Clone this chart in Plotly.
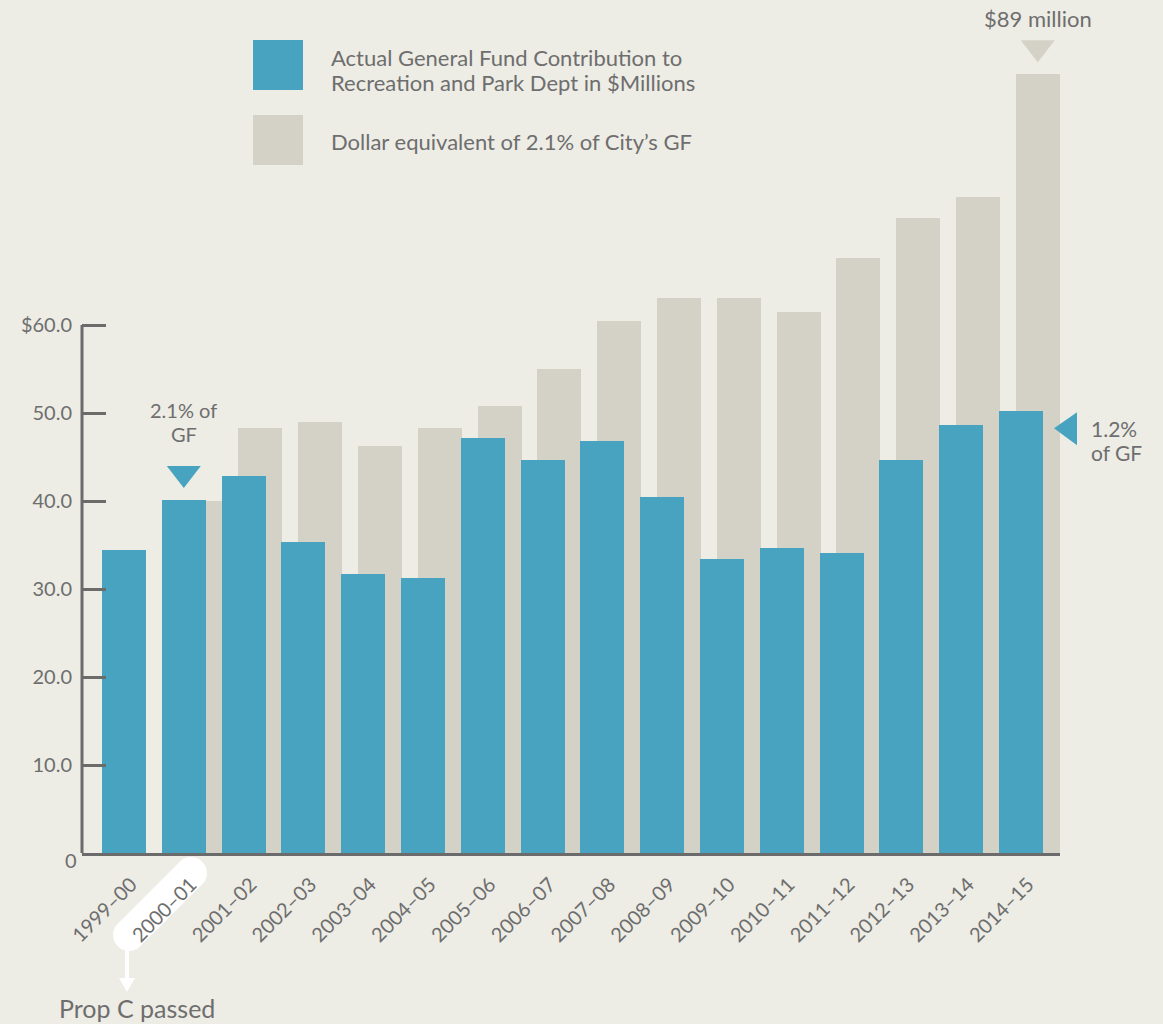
import math
import plotly.graph_objects as go

# ---------------- data ----------------
years = ["1999–00", "2000–01", "2001–02", "2002–03", "2003–04", "2004–05", "2005–06",
         "2006–07", "2007–08", "2008–09", "2009–10", "2010–11", "2011–12", "2012–13",
         "2013–14", "2014–15"]
actual_gf = [34.4, 40.1, 42.8, 35.3, 31.7, 31.3, 47.2, 44.7, 46.8, 40.5, 33.4, 34.7,
             34.1, 44.7, 48.6, 50.2]
equiv_21pct = [None, 40.0, 48.3, 49.0, 46.2, 48.3, 50.8, 55.0, 60.5, 63.1, 63.1, 61.5,
               67.6, 72.2, 74.5, 88.5]
y_tick_vals = [10, 20, 30, 40, 50, 60]
y_tick_text = ["10.0", "20.0", "30.0", "40.0", "50.0", "$60.0"]

legend_actual = ["Actual General Fund Contribution to", "Recreation and Park Dept in $Millions"]
legend_equiv = "Dollar equivalent of 2.1% of City’s GF"

# ---------------- style ----------------
BG = "#edece5"
BLUE = "#47a3c0"
GREY = "#d4d2c6"
TXT = "#6e6e6e"
AX = "#6b6b6b"
FONT = "Lato, 'Open Sans', sans-serif"

W, H = 1163, 1024
PL, PR, PT, PB = 82, 1060, 8, 853   # plot area in page pixels
idx = list(range(len(years)))
BW = 0.735
GSH = 0.28


def pxx(x):
    return (x - PL) / (PR - PL)


def pyy(y):
    return (PB - y) / (PB - PT)


fig = go.Figure()
fig.add_trace(go.Bar(x=idx, y=equiv_21pct, width=BW, offset=-BW / 2 + GSH,
                     marker=dict(color=GREY, line=dict(width=0)), name="equiv",
                     hoverinfo="skip"))
fig.add_trace(go.Bar(x=idx, y=actual_gf, width=BW, offset=-BW / 2,
                     marker=dict(color=BLUE, line=dict(width=0)), name="actual",
                     hoverinfo="skip"))

x_lo = (PL - 124) / 59.8
x_hi = x_lo + (PR - PL) / 59.8
y_hi = (PB - PT) / 8.8

fig.update_layout(
    width=W, height=H, paper_bgcolor=BG, plot_bgcolor=BG,
    margin=dict(l=PL, r=W - PR, t=PT, b=H - PB, pad=0),
    barmode="overlay", showlegend=False, bargap=0,
    font=dict(family=FONT, color=TXT, size=18),
    xaxis=dict(range=[x_lo, x_hi], tickvals=[i + 0.12 for i in idx], ticktext=years,
               tickangle=-45, showgrid=False, zeroline=False, showline=True,
               linecolor=AX, linewidth=3, ticks="", ticklabelstandoff=9,
               tickfont=dict(size=20, color=TXT)),
    yaxis=dict(range=[0, y_hi], tickvals=y_tick_vals, ticktext=y_tick_text,
               showgrid=False, zeroline=False, showline=False, ticks="inside",
               ticklen=24, tickwidth=2.5, tickcolor=AX, ticklabelstandoff=9,
               tickfont=dict(size=20, color=TXT)),
)

shapes = []
# y axis line up to 60
shapes.append(dict(type="line", xref="paper", yref="y", x0=0, x1=0, y0=0, y1=60,
                   line=dict(color=AX, width=3)))
# blue triangle above 2000-01
shapes.append(dict(type="path", xref="x", yref="y", xsizemode="pixel", ysizemode="pixel",
                   xanchor=1, yanchor=actual_gf[1], path="M-17,34 L17,34 L0,12 Z",
                   fillcolor=BLUE, line=dict(width=0)))
# grey triangle above 2014-15
shapes.append(dict(type="path", xref="x", yref="y", xsizemode="pixel", ysizemode="pixel",
                   xanchor=15 + GSH, yanchor=equiv_21pct[15], path="M-17,34 L17,34 L0,12 Z",
                   fillcolor=GREY, line=dict(width=0)))
# blue left-pointing triangle
shapes.append(dict(type="path", xref="paper", yref="y", xsizemode="pixel", ysizemode="pixel",
                   xanchor=1, yanchor=actual_gf[15], path="M-6,-17 L17,-1 L17,-34 Z",
                   fillcolor=BLUE, line=dict(width=0)))
# legend squares
for (y0, col) in [(40, BLUE), (115, GREY)]:
    shapes.append(dict(type="rect", xref="paper", yref="paper", x0=pxx(253), x1=pxx(303),
                       y0=pyy(y0 + 50), y1=pyy(y0), fillcolor=col, line=dict(width=0)))

# white pill behind the 2000-01 label
ax_, ay_ = 129, 935
bx_, by_ = 191, 873
r = 16
dx, dy = bx_ - ax_, by_ - ay_
L = math.hypot(dx, dy)
ux, uy = dx / L, dy / L
nx, ny = -uy, ux
pts = []
for k in range(13):
    t = -math.pi / 2 + math.pi * k / 12
    pts.append((bx_ + r * (ux * math.cos(t) + nx * math.sin(t)),
                by_ + r * (uy * math.cos(t) + ny * math.sin(t))))
for k in range(13):
    t = math.pi / 2 + math.pi * k / 12
    pts.append((ax_ + r * (ux * math.cos(t) + nx * math.sin(t)),
                ay_ + r * (uy * math.cos(t) + ny * math.sin(t))))
path = "M" + " L".join(f"{x - PL:.1f},{PB - y:.1f}" for x, y in pts) + " Z"
shapes.append(dict(type="path", xref="paper", yref="paper", xsizemode="pixel",
                   ysizemode="pixel", xanchor=0, yanchor=0, path=path,
                   fillcolor="white", line=dict(width=0), layer="below"))
# white arrow
shapes.append(dict(type="line", xref="paper", yref="paper", xsizemode="pixel",
                   ysizemode="pixel", xanchor=0, yanchor=0,
                   x0=127 - PL, x1=127 - PL, y0=PB - 948, y1=PB - 980,
                   line=dict(color="white", width=4)))
shapes.append(dict(type="path", xref="paper", yref="paper", xsizemode="pixel",
                   ysizemode="pixel", xanchor=0, yanchor=0,
                   path=f"M{119 - PL},{PB - 978} L{135 - PL},{PB - 978} L{127 - PL},{PB - 992} Z",
                   fillcolor="white", line=dict(width=0)))
fig.update_layout(shapes=shapes)

ann = []
for line, yy in zip(legend_actual, [58, 82]):
    ann.append(dict(xref="paper", yref="paper", x=pxx(329), y=pyy(yy), xanchor="left",
                    yanchor="middle", align="left", text=line, showarrow=False,
                    font=dict(size=22, color=TXT)))
ann.append(dict(xref="paper", yref="paper", x=pxx(329), y=pyy(141), xanchor="left",
                yanchor="middle", align="left", text=legend_equiv, showarrow=False,
                font=dict(size=22, color=TXT)))
for line, sh in zip(["2.1% of", "GF"], [90, 66]):
    ann.append(dict(xref="x", yref="y", x=1, y=actual_gf[1], yshift=sh, xanchor="center",
                    yanchor="middle", align="center", text=line, showarrow=False,
                    font=dict(size=20, color=TXT)))
for line, sh in zip(["1.2%", "of GF"], [-17, -41]):
    ann.append(dict(xref="paper", yref="y", x=1, y=actual_gf[15], xshift=29, yshift=sh,
                    xanchor="left", yanchor="middle", align="left", text=line,
                    showarrow=False, font=dict(size=21, color=TXT)))
ann.append(dict(xref="x", yref="y", x=15 + GSH, y=equiv_21pct[15], yshift=56,
                xanchor="center", yanchor="middle", text="$89 million", showarrow=False,
                font=dict(size=22, color=TXT)))
ann.append(dict(xref="paper", yref="paper", x=pxx(57), y=pyy(1008), xanchor="left",
                yanchor="middle", text="Prop C passed", showarrow=False,
                font=dict(size=25, color=TXT)))
ann.append(dict(xref="paper", yref="paper", x=pxx(71), y=pyy(860), xanchor="center",
                yanchor="middle", text="0", showarrow=False, font=dict(size=20, color=TXT)))
fig.update_layout(annotations=ann)

fig.write_html("out.html", config={"displayModeBar": False},
               post_script="document.body.style.margin='0';document.body.style.overflow='hidden';")
